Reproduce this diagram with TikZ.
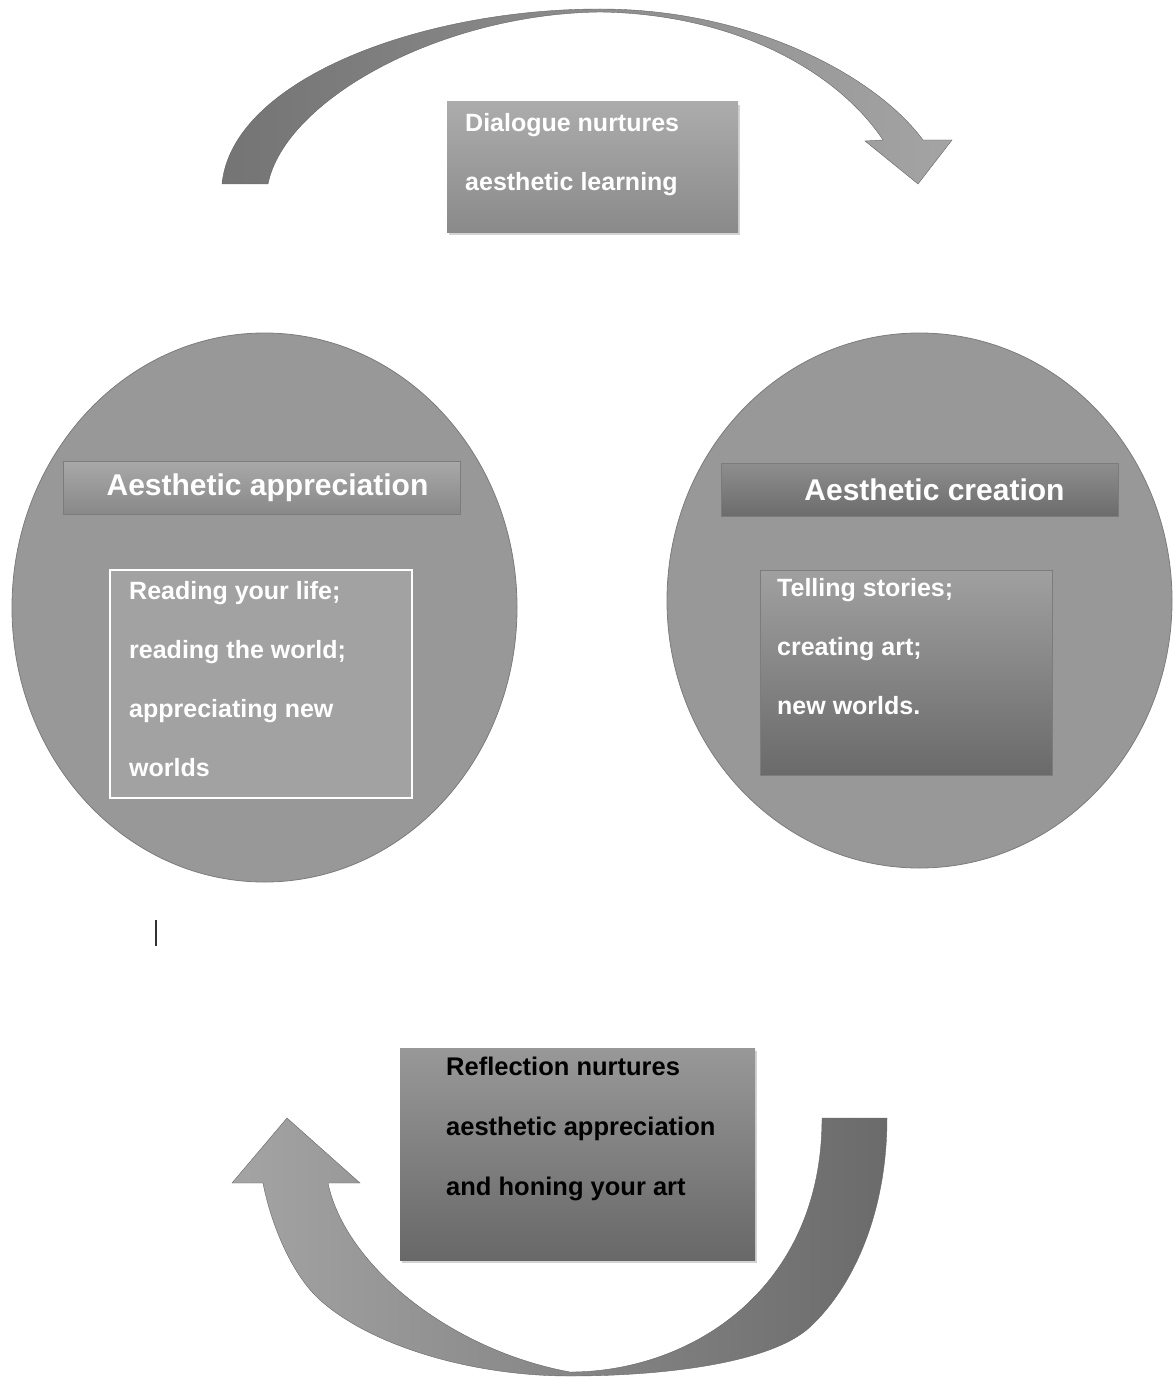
\documentclass[tikz,border=0pt]{standalone}
\usepackage{fontspec}
\setmainfont{Liberation Sans}
\usetikzlibrary{shapes.geometric,shadows}

\definecolor{discfill}{HTML}{989898}
\definecolor{discline}{HTML}{7C7C7C}
\definecolor{arrowdark}{HTML}{747474}
\definecolor{arrowlight}{HTML}{A4A4A4}
\definecolor{bartop}{HTML}{A8A8A8}
\definecolor{barbottom}{HTML}{888888}
\definecolor{darkbartop}{HTML}{8E8E8E}
\definecolor{darkbarbottom}{HTML}{6C6C6C}
\definecolor{boxfill}{HTML}{A2A2A2}
\definecolor{paneltop}{HTML}{A0A0A0}
\definecolor{panelbottom}{HTML}{6A6A6A}
\definecolor{dialoguetop}{HTML}{ACACAC}
\definecolor{dialoguebottom}{HTML}{8A8A8A}
\definecolor{reflecttop}{HTML}{989898}
\definecolor{reflectbottom}{HTML}{686868}

\tikzset{
  disc/.style={ellipse, draw=discline, fill=discfill, line width=0.8pt, inner sep=0pt},
  titlebar/.style={rectangle, draw=discline, line width=0.6pt, inner sep=0pt,
    minimum width=397pt, minimum height=53pt, text=white,
    font=\bfseries\fontsize{30}{36}\selectfont},
  panel/.style={rectangle, inner sep=0pt},
  bodytext/.style={anchor=north west, inner sep=0pt, align=left,
    font=\bfseries\fontsize{25}{59}\selectfont},
  curvearrow/.style={draw=gray!80!black, line width=0.4pt},
  boxshadow/.style={drop shadow={shadow xshift=2pt, shadow yshift=-3pt, opacity=0.35}}
}

\begin{document}
\begin{tikzpicture}[x=1pt,y=-1pt]
    \useasboundingbox (0,0) rectangle (1175,1383);

    % Draw arrows
    \shadedraw[curvearrow, left color=arrowdark, right color=arrowlight]
      (222,184) .. controls (232,80) and (420,9) .. (600,9)
      .. controls (750,9) and (875,75) .. (923,140)
      -- (952,140) -- (918,184) -- (865,141) -- (883,140)
      .. controls (840,75) and (740,14) .. (600,12)
      .. controls (440,14) and (285,100) .. (268,184)
      -- cycle;
    \shadedraw[curvearrow, left color=arrowlight, right color=arrowdark!92!black]
      (887,1118) .. controls (887,1210) and (855,1285) .. (810,1327)
      .. controls (770,1364) and (660,1376) .. (570,1376)
      .. controls (470,1376) and (370,1345) .. (320,1300)
      .. controls (290,1273) and (270,1220) .. (263,1183)
      -- (232,1183) -- (287,1118) -- (360,1183) -- (328,1183)
      .. controls (345,1265) and (450,1350) .. (570,1372)
      .. controls (690,1372) and (822,1290) .. (822,1118)
      -- cycle;

    % Draw nodes
    \node[disc, minimum width=505pt, minimum height=549pt] (appr) at (264.5,607.5) {};
    \node[disc, minimum width=505pt, minimum height=535pt] (creat) at (919.5,600.5) {};

    \node[titlebar, top color=bartop, bottom color=barbottom] (apprtitle) at (261.5,488) {\hspace*{12pt}Aesthetic appreciation};
    \node[titlebar, top color=darkbartop, bottom color=darkbarbottom] (creattitle) at (919.5,489.5) {\hspace*{30pt}Aesthetic creation};

    \node[panel, draw=white, line width=2.5pt, fill=boxfill, minimum width=302pt, minimum height=228pt] (apprbox) at (261,684) {};
    \node[panel, draw=discline, line width=0.6pt, top color=paneltop, bottom color=panelbottom,
      minimum width=292pt, minimum height=205pt] (creatbox) at (906,672.5) {};

    \node[panel, boxshadow, top color=dialoguetop, bottom color=dialoguebottom,
      minimum width=291pt, minimum height=130pt] (dialogue) at (592.5,167) {};
    \node[panel, boxshadow, top color=reflecttop, bottom color=reflectbottom,
      minimum width=355pt, minimum height=212pt] (reflect) at (577.5,1154) {};

    % Texts
    \node[bodytext, text=white] (apprtext) at (129,581.5)
      {Reading your life;\\reading the world;\\appreciating new\\worlds};
    \node[bodytext, text=white] (creattext) at (777,578.5)
      {Telling stories;\\creating art;\\new worlds.};
    \node[bodytext, text=white] (dialoguetext) at (465,113)
      {Dialogue nurtures\\aesthetic learning};
    \node[bodytext, text=black, font=\bfseries\fontsize{25.5}{60}\selectfont] (reflecttext) at (446,1057)
      {Reflection nurtures\\aesthetic appreciation\\and honing your art};

    % Cursor mark
    \draw[line width=1.2pt, black!80] (156,920) -- (156,946);
\end{tikzpicture}
\end{document}
